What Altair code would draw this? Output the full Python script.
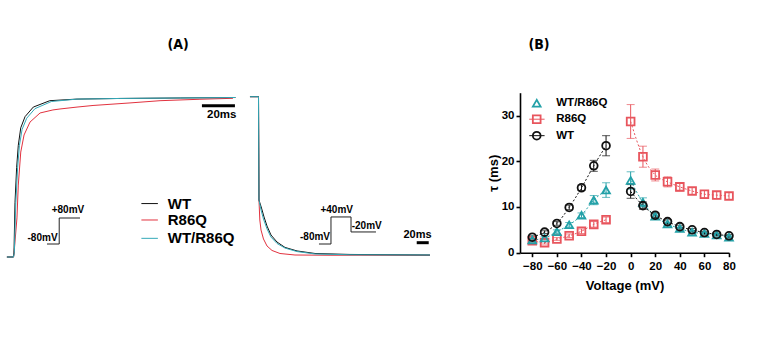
import altair as alt
import pandas as pd

FONT = "Liberation Sans, Arial, sans-serif"
TFONT = "Liberation Sans Narrow, DejaVu Sans Condensed, Liberation Sans, sans-serif"

# ---------------- Panel A : current traces ----------------
series = ["WT", "R86Q", "WT/R86Q"]
colors_a = ["#111111", "#e2323f", "#34a9b8"]

# activation at +80 mV (time in ms, normalised current)
act_t_wt = [-4, 0, 0.3, 0.9, 1.9, 2.9, 4.4, 7, 12, 22, 38.5, 64.5, 101, 134.5]
act_i_wt = [0, 0, 0.03, 0.34, 0.56, 0.70, 0.81, 0.88, 0.94, 0.98, 0.99, 0.994, 0.997, 1.0]
act_t_het = [-4, 0, 0.5, 1.4, 2.5, 3.6, 5.2, 8, 13, 23, 38.5, 64.5, 101, 134.5]
act_i_het = [0, 0, 0.03, 0.34, 0.56, 0.70, 0.80, 0.87, 0.93, 0.975, 0.99, 0.994, 0.997, 1.0]
act_t_mut = [-4, 0, 0.3, 2.1, 2.9, 4.4, 6.4, 10, 16.1, 23.9, 28.2, 38.5, 48.2, 70.6, 88.8, 113, 133]
act_i_mut = [0, 0, 0.02, 0.245, 0.451, 0.658, 0.765, 0.846, 0.903, 0.922, 0.928, 0.940, 0.950, 0.966, 0.980, 0.989, 0.995]

# deactivation at -20 mV after +40 mV
deact_t_wt = [-14.2, 0, 0.8, 5.0, 9.2, 14.2, 20.8, 30.8, 44.2, 64.2, 94.2, 152.5, 285.8]
deact_i_wt = [1.005, 1.005, 0.357, 0.307, 0.251, 0.194, 0.138, 0.094, 0.060, 0.038, 0.022, 0.016, 0.0125]
deact_t_het = [-14.2, 0, 0.8, 4.2, 8.3, 14.2, 20.8, 30.8, 44.2, 64.2, 94.2, 152.5, 285.8]
deact_i_het = [1.005, 1.005, 0.357, 0.295, 0.238, 0.176, 0.125, 0.085, 0.056, 0.034, 0.019, 0.014, 0.0125]
deact_t_mut = [-14.2, 0, 0.8, 2.2, 4.2, 8.3, 14.2, 22.5, 35.8, 60.8, 119.2, 285.8]
deact_i_mut = [1.005, 1.005, 0.357, 0.232, 0.169, 0.113, 0.069, 0.041, 0.022, 0.0125, 0.011, 0.011]

# legend of panel A
leg_a_labels = ["WT", "R86Q", "WT/R86Q"]
leg_a_i = [0.335, 0.232, 0.117]
leg_a_t0, leg_a_t1, leg_a_tt = 77.5, 87.5, 93.5

# voltage protocols
prot1_t = [20.3, 27.7, 27.7, 40.3]
prot1_i = [0.0815, 0.0815, 0.2445, 0.2445]
prot1_txt = ["-80mV", "+80mV"]
prot1_txt_t = [17.6, 33.0]
prot1_txt_i = [0.117, 0.295]
prot2_t = [100.8, 120.8, 120.8, 154.2, 154.2, 195.8]
prot2_i = [0.0815, 0.0815, 0.251, 0.251, 0.157, 0.157]
prot2_txt = ["-80mV", "+40mV", "-20mV"]
prot2_txt_t = [94.2, 130.3, 180.3]
prot2_txt_i = [0.125, 0.295, 0.194]

# scale bars (20 ms)
bar1_t = [114.2, 134.2]
bar1_i = 0.949
bar1_txt_t, bar1_txt_i = 126.2, 0.890
bar2_t = [263.7, 283.7]
bar2_i = 0.0897
bar2_txt_t, bar2_txt_i = 265.0, 0.138

# ---------------- Panel B : time constants ----------------
voltages = [-80, -70, -60, -50, -40, -30, -20, 0, 10, 20, 30, 40, 50, 60, 70, 80]
tau_wt = [3.4, 4.5, 6.4, 9.9, 14.2, 19.0, 23.4, 13.4, 10.3, 8.2, 6.8, 5.7, 5.0, 4.4, 4.0, 3.7]
err_wt = [0.3, 0.3, 0.4, 0.5, 0.6, 1.2, 2.2, 1.5, 0.8, 0.5, 0.4, 0.3, 0.3, 0.3, 0.3, 0.3]
tau_het = [2.8, 3.2, 4.6, 6.1, 8.2, 11.5, 13.7, 15.8, 11.0, 8.0, 6.3, 5.3, 4.5, 4.2, 3.9, 3.4]
err_het = [0.3, 0.3, 0.4, 0.5, 0.5, 1.0, 1.6, 1.9, 1.0, 0.5, 0.4, 0.3, 0.3, 0.3, 0.3, 0.3]
tau_mut = [2.6, 2.2, 3.0, 3.7, 4.7, 6.2, 7.2, 28.7, 21.0, 17.0, 15.5, 14.4, 13.5, 12.8, 12.6, 12.4]
err_mut = [0.3, 0.3, 0.3, 0.4, 0.5, 0.6, 0.6, 3.7, 2.3, 1.3, 1.1, 0.9, 0.7, 0.8, 0.8, 0.7]

colors_b = ["#111111", "#e8555d", "#23a1a8"]
shapes_b = ["circle", "square", "triangle-up"]

leg_b_labels = ["WT/R86Q", "R86Q", "WT"]
leg_b_tau = [32.7, 29.2, 25.6]
leg_b_line = [False, True, True]
leg_b_v, leg_b_v0, leg_b_v1, leg_b_vt = -76.4, -82.5, -70.0, -60.5

panel_titles = ["(A)", "(B)"]

# ---------------- build tables ----------------
def trace_df(ts, is_, names):
    rows = []
    for t, i, n in zip(ts, is_, names):
        for k, (a, b) in enumerate(zip(t, i)):
            rows.append({"t": a, "I": b, "s": n, "k": k})
    return pd.DataFrame(rows)

act_df = trace_df([act_t_mut, act_t_wt, act_t_het], [act_i_mut, act_i_wt, act_i_het],
                  ["R86Q", "WT", "WT/R86Q"])
deact_df = trace_df([deact_t_mut, deact_t_wt, deact_t_het], [deact_i_mut, deact_i_wt, deact_i_het],
                    ["R86Q", "WT", "WT/R86Q"])
leg_a_df = pd.DataFrame({"s": leg_a_labels, "I": leg_a_i, "t0": leg_a_t0, "t1": leg_a_t1, "tt": leg_a_tt})
prot1_df = pd.DataFrame({"t": prot1_t, "I": prot1_i, "k": range(len(prot1_t))})
prot1_txt_df = pd.DataFrame({"t": prot1_txt_t, "I": prot1_txt_i, "txt": prot1_txt})
prot2_df = pd.DataFrame({"t": prot2_t, "I": prot2_i, "k": range(len(prot2_t))})
prot2_txt_df = pd.DataFrame({"t": prot2_txt_t, "I": prot2_txt_i, "txt": prot2_txt})
bar1_df = pd.DataFrame({"t0": [bar1_t[0]], "t1": [bar1_t[1]], "I": [bar1_i], "tt": [bar1_txt_t], "It": [bar1_txt_i], "txt": ["20ms"]})
bar2_df = pd.DataFrame({"t0": [bar2_t[0]], "t1": [bar2_t[1]], "I": [bar2_i], "tt": [bar2_txt_t], "It": [bar2_txt_i], "txt": ["20ms"]})

rows = []
for name, tau, err in [("R86Q", tau_mut, err_mut), ("WT/R86Q", tau_het, err_het), ("WT", tau_wt, err_wt)]:
    for v, t, e in zip(voltages, tau, err):
        rows.append({"v": v, "tau": t, "lo": t - e, "hi": t + e, "s": name,
                     "seg": name + ("-neg" if v < 0 else "-pos")})
b_df = pd.DataFrame(rows)
leg_b_df = pd.DataFrame({"s": leg_b_labels, "tau": leg_b_tau, "line": leg_b_line,
                         "v": leg_b_v, "v0": leg_b_v0, "v1": leg_b_v1, "vt": leg_b_vt})

# ---------------- scales ----------------
xa1 = alt.Scale(domain=[-4, 135], range=[6.9, 236.25], nice=False, zero=False)
xa2 = alt.Scale(domain=[-15, 290], range=[249.5, 432.5], nice=False, zero=False)
ya = alt.Scale(domain=[0, 1], range=[257, 97.5], nice=False, zero=False)
xb = alt.Scale(domain=[-90, 80], range=[520, 729], nice=False, zero=False)
yb = alt.Scale(domain=[0, 35], range=[252.7, 92.7], nice=False, zero=False)
ca = alt.Scale(domain=series, range=colors_a)
cb = alt.Scale(domain=series, range=colors_b)
sb = alt.Scale(domain=series, range=shapes_b)

axb_x = alt.Axis(values=[-80, -60, -40, -20, 0, 20, 40, 60, 80], orient="bottom", offset=-93.3,
                 title="Voltage (mV)", grid=False, domainColor="black", domainWidth=1.6,
                 tickColor="black", tickWidth=1.6, tickSize=4, labelFont=FONT, labelFontSize=11.5,
                 labelFontWeight="bold", labelColor="black", labelPadding=4, labelFlush=False,
                 titleFont=FONT, titleFontSize=13, titleFontWeight="bold", titleColor="black",
                 titlePadding=7)
axb_y = alt.Axis(values=[0, 10, 20, 30], orient="left", offset=-520, title="τ (ms)", grid=False,
                 domainColor="black", domainWidth=1.6, tickColor="black", tickWidth=1.6, tickSize=4,
                 labelFont=FONT, labelFontSize=11.5, labelFontWeight="bold", labelColor="black",
                 labelPadding=2, labelFlush=False, titleFont=FONT, titleFontSize=13,
                 titleFontWeight="bold", titleColor="black", titlePadding=1)

# ---------------- panel A (left traces) ----------------
a1_traces = alt.Chart(act_df).mark_line(strokeWidth=1).encode(
    x=alt.X("t:Q", scale=xa1, axis=None),
    y=alt.Y("I:Q", scale=ya, axis=None),
    color=alt.Color("s:N", scale=ca, legend=None),
    detail="s:N", order="k:Q")
a1_leg_lines = alt.Chart(leg_a_df).mark_rule(strokeWidth=1).encode(
    x=alt.X("t0:Q", scale=xa1, axis=None), x2="t1:Q",
    y=alt.Y("I:Q", scale=ya, axis=None),
    color=alt.Color("s:N", scale=ca, legend=None))
a1_leg_text = alt.Chart(leg_a_df).mark_text(align="left", baseline="middle", font=FONT,
                                            fontSize=15, fontWeight="bold", color="black").encode(
    x=alt.X("tt:Q", scale=xa1, axis=None), y=alt.Y("I:Q", scale=ya, axis=None), text="s:N")
a1_prot = alt.Chart(prot1_df).mark_line(strokeWidth=1, color="#222222").encode(
    x=alt.X("t:Q", scale=xa1, axis=None), y=alt.Y("I:Q", scale=ya, axis=None), order="k:Q")
a1_prot_txt = alt.Chart(prot1_txt_df).mark_text(align="center", baseline="middle", font=FONT,
                                                fontSize=10, fontWeight="bold", color="black").encode(
    x=alt.X("t:Q", scale=xa1, axis=None), y=alt.Y("I:Q", scale=ya, axis=None), text="txt:N")
a1_bar = alt.Chart(bar1_df).mark_rule(strokeWidth=3, color="black").encode(
    x=alt.X("t0:Q", scale=xa1, axis=None), x2="t1:Q", y=alt.Y("I:Q", scale=ya, axis=None))
a1_bar_txt = alt.Chart(bar1_df).mark_text(align="center", baseline="middle", font=FONT,
                                          fontSize=11.5, fontWeight="bold", color="black").encode(
    x=alt.X("tt:Q", scale=xa1, axis=None), y=alt.Y("It:Q", scale=ya, axis=None), text="txt:N")
panel_a1 = alt.layer(a1_traces, a1_leg_lines, a1_leg_text, a1_prot, a1_prot_txt, a1_bar, a1_bar_txt)

# ---------------- panel A (right traces) ----------------
a2_traces = alt.Chart(deact_df).mark_line(strokeWidth=1).encode(
    x=alt.X("t:Q", scale=xa2, axis=None),
    y=alt.Y("I:Q", scale=ya, axis=None),
    color=alt.Color("s:N", scale=ca, legend=None),
    detail="s:N", order="k:Q")
a2_prot = alt.Chart(prot2_df).mark_line(strokeWidth=1, color="#222222").encode(
    x=alt.X("t:Q", scale=xa2, axis=None), y=alt.Y("I:Q", scale=ya, axis=None), order="k:Q")
a2_prot_txt = alt.Chart(prot2_txt_df).mark_text(align="center", baseline="middle", font=FONT,
                                                fontSize=10, fontWeight="bold", color="black").encode(
    x=alt.X("t:Q", scale=xa2, axis=None), y=alt.Y("I:Q", scale=ya, axis=None), text="txt:N")
a2_bar = alt.Chart(bar2_df).mark_rule(strokeWidth=3, color="black").encode(
    x=alt.X("t0:Q", scale=xa2, axis=None), x2="t1:Q", y=alt.Y("I:Q", scale=ya, axis=None))
a2_bar_txt = alt.Chart(bar2_df).mark_text(align="center", baseline="middle", font=FONT,
                                          fontSize=11, fontWeight="bold", color="black").encode(
    x=alt.X("tt:Q", scale=xa2, axis=None), y=alt.Y("It:Q", scale=ya, axis=None), text="txt:N")
panel_a2 = alt.layer(a2_traces, a2_prot, a2_prot_txt, a2_bar, a2_bar_txt)

# ---------------- panel B ----------------
b_lines = alt.Chart(b_df).mark_line(strokeWidth=1, strokeDash=[2, 2], interpolate="monotone").encode(
    x=alt.X("v:Q", scale=xb, axis=axb_x),
    y=alt.Y("tau:Q", scale=yb, axis=axb_y),
    color=alt.Color("s:N", scale=cb, legend=None), detail="seg:N")
b_err = alt.Chart(b_df).mark_rule(strokeWidth=1).encode(
    x=alt.X("v:Q", scale=xb, axis=axb_x),
    y=alt.Y("lo:Q", scale=yb, axis=axb_y), y2="hi:Q",
    color=alt.Color("s:N", scale=cb, legend=None))
b_cap_lo = alt.Chart(b_df).mark_tick(orient="horizontal", size=8, thickness=1).encode(
    x=alt.X("v:Q", scale=xb, axis=axb_x),
    y=alt.Y("lo:Q", scale=yb, axis=axb_y),
    color=alt.Color("s:N", scale=cb, legend=None))
b_cap_hi = alt.Chart(b_df).mark_tick(orient="horizontal", size=8, thickness=1).encode(
    x=alt.X("v:Q", scale=xb, axis=axb_x),
    y=alt.Y("hi:Q", scale=yb, axis=axb_y),
    color=alt.Color("s:N", scale=cb, legend=None))
b_pts = alt.Chart(b_df).mark_point(filled=False, strokeWidth=1.8, size=60, opacity=1).encode(
    x=alt.X("v:Q", scale=xb, axis=axb_x),
    y=alt.Y("tau:Q", scale=yb, axis=axb_y),
    color=alt.Color("s:N", scale=cb, legend=None),
    shape=alt.Shape("s:N", scale=sb, legend=None))
b_leg_lines = alt.Chart(leg_b_df).transform_filter("datum.line").mark_rule(strokeWidth=1).encode(
    x=alt.X("v0:Q", scale=xb, axis=axb_x), x2="v1:Q",
    y=alt.Y("tau:Q", scale=yb, axis=axb_y),
    color=alt.Color("s:N", scale=cb, legend=None))
b_leg_pts = alt.Chart(leg_b_df).mark_point(filled=False, strokeWidth=1.8, size=60, opacity=1).encode(
    x=alt.X("v:Q", scale=xb, axis=axb_x),
    y=alt.Y("tau:Q", scale=yb, axis=axb_y),
    color=alt.Color("s:N", scale=cb, legend=None),
    shape=alt.Shape("s:N", scale=sb, legend=None))
b_leg_txt = alt.Chart(leg_b_df).mark_text(align="left", baseline="middle", font=FONT, fontSize=11.5,
                                          fontWeight="bold", color="black").encode(
    x=alt.X("vt:Q", scale=xb, axis=axb_x),
    y=alt.Y("tau:Q", scale=yb, axis=axb_y), text="s:N")
panel_b = alt.layer(b_lines, b_err, b_cap_lo, b_cap_hi, b_pts, b_leg_lines, b_leg_pts, b_leg_txt)

# ---------------- panel labels ----------------
t_a = alt.Chart(pd.DataFrame({"txt": [panel_titles[0]]})).mark_text(
    font=TFONT, fontSize=14, fontWeight="bold", color="black", align="center", baseline="middle").encode(
    x=alt.value(178), y=alt.value(45), text="txt:N")
t_b = alt.Chart(pd.DataFrame({"txt": [panel_titles[1]]})).mark_text(
    font=TFONT, fontSize=14, fontWeight="bold", color="black", align="center", baseline="middle").encode(
    x=alt.value(539), y=alt.value(45), text="txt:N")

chart = alt.layer(panel_a1, panel_a2, panel_b, t_a, t_b).resolve_scale(
    x="independent", y="independent", color="independent", shape="independent"
).properties(
    width=764, height=346, padding=0, autosize=alt.AutoSizeParams(type="none"),
    background="white"
).configure_view(stroke=None)

chart.save("out.html", embed_options={"renderer": "svg", "actions": False})
